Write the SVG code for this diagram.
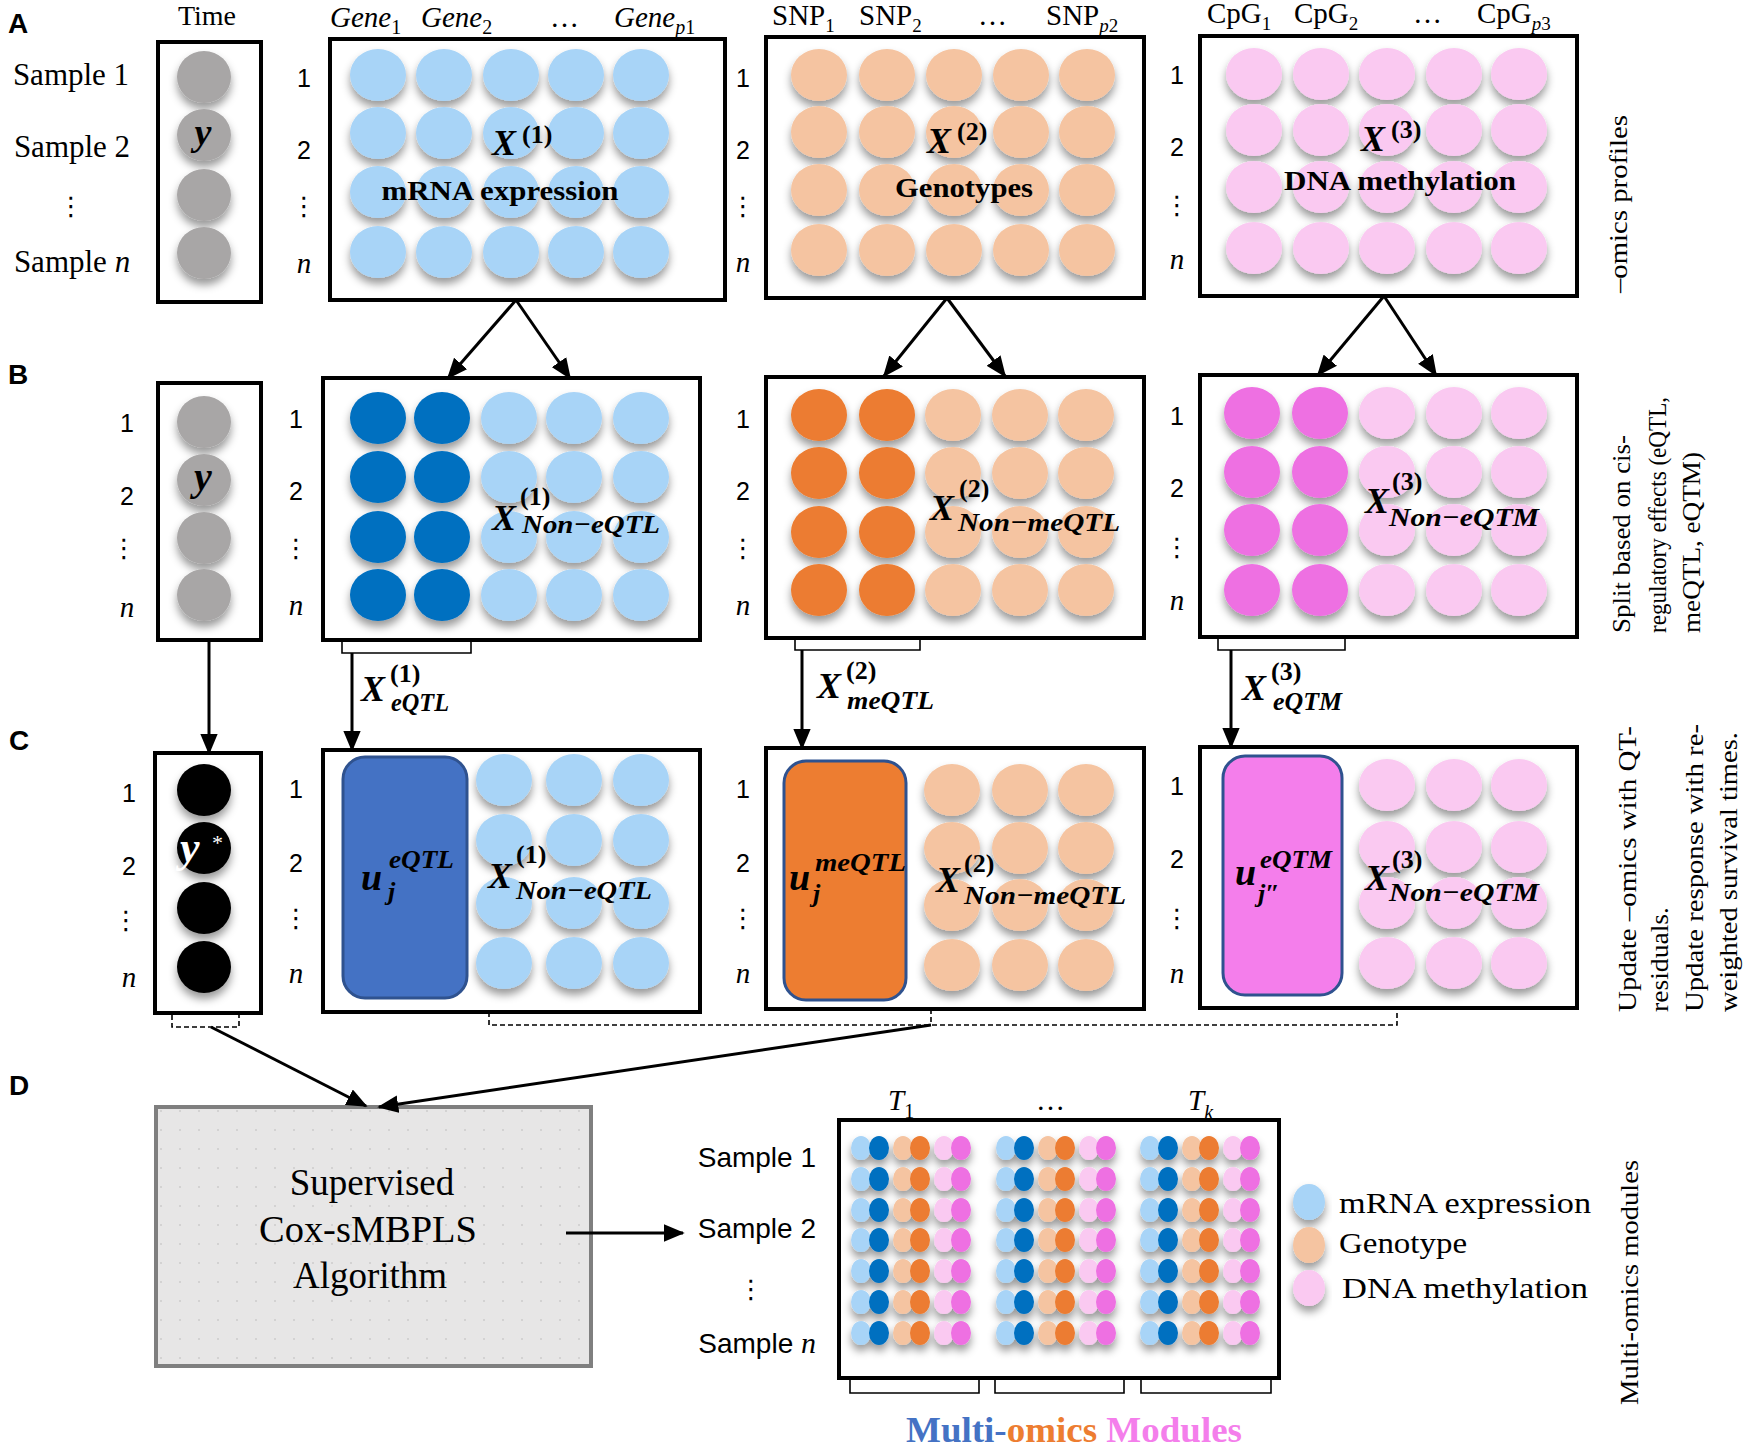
<svg xmlns="http://www.w3.org/2000/svg" width="1750" height="1452" viewBox="0 0 1750 1452">
<defs>
<style>
.box{fill:#fff;stroke:#000;stroke-width:4}
.lb{fill:#A8D4F7}.db{fill:#0070C0}.lo{fill:#F5C4A1}.do{fill:#EC7C30}.lp{fill:#FAC9F1}.dp{fill:#EE70E2}.gr{fill:#A8A6A6}.bk{fill:#000}
.t{font-family:"Liberation Serif","Times New Roman",serif}
.num{font-family:"Liberation Sans",Arial,sans-serif;font-size:25px;text-anchor:middle}
.ni{font-family:"Liberation Serif",serif;font-style:italic;font-size:29px;text-anchor:middle}
.vd{font-family:"DejaVu Sans",sans-serif;font-size:26px;text-anchor:middle}
.bi{font-family:"Liberation Serif",serif;font-weight:bold;font-style:italic}
.bsup{font-family:"Liberation Serif",serif;font-weight:bold;font-style:normal;font-size:26px}
.sub{font-size:26px}
.sec{font-family:"Liberation Sans",Arial,sans-serif;font-weight:bold;font-size:28px}
.hdr{font-family:"Liberation Serif",serif;font-size:29px}
.lbl{font-family:"Liberation Serif",serif;font-weight:bold;font-size:28px;text-anchor:middle}
.conn{stroke:#000;stroke-width:3;fill:none}
.arr{marker-end:url(#ah)}
.brk{stroke:#000;stroke-width:1.6;fill:none}
.dash{stroke:#000;stroke-width:1.6;fill:none;stroke-dasharray:5 3}
.vt{font-family:"Liberation Serif",serif;font-size:25px}
.urect{stroke:#2F528F;stroke-width:3}
.ds{font-family:"Liberation Sans",Arial,sans-serif;font-size:28px;text-anchor:end}
</style>
<filter id="sh" x="-20%" y="-20%" width="140%" height="150%"><feDropShadow dx="0" dy="6" stdDeviation="4" flood-color="#000" flood-opacity="0.4"/></filter>
<marker id="ah" viewBox="0 0 12 10" refX="11" refY="5" markerWidth="7" markerHeight="6" orient="auto" markerUnits="strokeWidth"><path d="M0,0 L12,5 L0,10 z" fill="#000"/></marker>
<pattern id="dotpat" width="19" height="19" patternUnits="userSpaceOnUse"><rect width="19" height="19" fill="#E7E6E6"/><circle cx="9" cy="9" r="1" fill="#CDCCCC"/></pattern>
<g id="m6">
<ellipse cx="0" cy="0" rx="10" ry="12" class="lb"/><ellipse cx="18" cy="0" rx="10" ry="12" class="db"/>
<ellipse cx="42" cy="0" rx="10" ry="12" class="lo"/><ellipse cx="59" cy="0" rx="10" ry="12" class="do"/>
<ellipse cx="83" cy="0" rx="10" ry="12" class="lp"/><ellipse cx="100" cy="0" rx="10" ry="12" class="dp"/>
</g>
</defs>
<rect width="1750" height="1452" fill="#fff"/>

<g id="section-labels">
<text class="sec" x="8" y="33">A</text>
<text class="sec" x="8" y="384">B</text>
<text class="sec" x="9" y="750">C</text>
<text class="sec" x="9" y="1095">D</text>
</g>

<!-- ===== Row A ===== -->
<g id="a-samples">
<text class="t" x="71" y="85" font-size="31" text-anchor="middle">Sample 1</text>
<text class="t" x="72" y="157" font-size="31" text-anchor="middle">Sample 2</text>
<text class="vd" x="71" y="215">⋮</text>
<text class="t" x="72" y="272" font-size="31" text-anchor="middle">Sample <tspan font-style="italic">n</tspan></text>
</g>
<g id="a-time">
<text class="t" x="207" y="25" font-size="28" text-anchor="middle">Time</text>
<rect class="box" x="158" y="42" width="103" height="260"/>
<g filter="url(#sh)">
<ellipse class="gr" cx="204" cy="77" rx="27" ry="26"/><ellipse class="gr" cx="204" cy="135" rx="27" ry="26"/>
<ellipse class="gr" cx="204" cy="195" rx="27" ry="26"/><ellipse class="gr" cx="204" cy="253" rx="27" ry="26"/>
</g>
<text class="bi" x="203" y="145" font-size="38" text-anchor="middle">y</text>
</g>

<g id="a-gene">
<text class="hdr" x="330" y="27" font-size="31" font-style="italic">Gene<tspan font-size="20" dy="7" font-style="normal">1</tspan></text>
<text class="hdr" x="421" y="27" font-size="31" font-style="italic">Gene<tspan font-size="20" dy="7" font-style="normal">2</tspan></text>
<text class="hdr" x="550" y="27">…</text>
<text class="hdr" x="614" y="27" font-size="31" font-style="italic">Gene<tspan font-size="20" dy="7">p</tspan><tspan font-size="20" font-style="normal">1</tspan></text>
<text class="num" x="304" y="87">1</text><text class="num" x="304" y="159">2</text><text class="vd" x="304" y="215">⋮</text><text class="ni" x="304" y="273">n</text>
<rect class="box" x="330" y="39" width="395" height="261"/>
<g filter="url(#sh)" class="lb">
<ellipse cx="378" cy="75" rx="28" ry="26"/><ellipse cx="444" cy="75" rx="28" ry="26"/><ellipse cx="511" cy="75" rx="28" ry="26"/><ellipse cx="576" cy="75" rx="28" ry="26"/><ellipse cx="641" cy="75" rx="28" ry="26"/>
<ellipse cx="378" cy="133" rx="28" ry="26"/><ellipse cx="444" cy="133" rx="28" ry="26"/><ellipse cx="511" cy="133" rx="28" ry="26"/><ellipse cx="576" cy="133" rx="28" ry="26"/><ellipse cx="641" cy="133" rx="28" ry="26"/>
<ellipse cx="378" cy="192" rx="28" ry="26"/><ellipse cx="444" cy="192" rx="28" ry="26"/><ellipse cx="511" cy="192" rx="28" ry="26"/><ellipse cx="576" cy="192" rx="28" ry="26"/><ellipse cx="641" cy="192" rx="28" ry="26"/>
<ellipse cx="378" cy="252" rx="28" ry="26"/><ellipse cx="444" cy="252" rx="28" ry="26"/><ellipse cx="511" cy="252" rx="28" ry="26"/><ellipse cx="576" cy="252" rx="28" ry="26"/><ellipse cx="641" cy="252" rx="28" ry="26"/>
</g>
<text class="bi" font-size="36"><tspan x="492" y="155">X</tspan><tspan class="bsup" x="522" y="143">(1)</tspan></text>
<text class="lbl" x="500" y="200" textLength="237" lengthAdjust="spacingAndGlyphs">mRNA expression</text>
</g>

<g id="a-snp">
<text class="hdr" x="772" y="25" font-size="28">SNP<tspan font-size="19" dy="7">1</tspan></text>
<text class="hdr" x="859" y="25" font-size="28">SNP<tspan font-size="19" dy="7">2</tspan></text>
<text class="hdr" x="978" y="25">…</text>
<text class="hdr" x="1046" y="25" font-size="28">SNP<tspan font-size="19" dy="7" font-style="italic">p</tspan><tspan font-size="19">2</tspan></text>
<text class="num" x="743" y="87">1</text><text class="num" x="743" y="159">2</text><text class="vd" x="743" y="215">⋮</text><text class="ni" x="743" y="272">n</text>
<rect class="box" x="766" y="37" width="378" height="261"/>
<g filter="url(#sh)" class="lo">
<ellipse cx="819" cy="75" rx="28" ry="26"/><ellipse cx="887" cy="75" rx="28" ry="26"/><ellipse cx="954" cy="75" rx="28" ry="26"/><ellipse cx="1021" cy="75" rx="28" ry="26"/><ellipse cx="1087" cy="75" rx="28" ry="26"/>
<ellipse cx="819" cy="132" rx="28" ry="26"/><ellipse cx="887" cy="132" rx="28" ry="26"/><ellipse cx="954" cy="132" rx="28" ry="26"/><ellipse cx="1021" cy="132" rx="28" ry="26"/><ellipse cx="1087" cy="132" rx="28" ry="26"/>
<ellipse cx="819" cy="190" rx="28" ry="26"/><ellipse cx="887" cy="190" rx="28" ry="26"/><ellipse cx="954" cy="190" rx="28" ry="26"/><ellipse cx="1021" cy="190" rx="28" ry="26"/><ellipse cx="1087" cy="190" rx="28" ry="26"/>
<ellipse cx="819" cy="250" rx="28" ry="26"/><ellipse cx="887" cy="250" rx="28" ry="26"/><ellipse cx="954" cy="250" rx="28" ry="26"/><ellipse cx="1021" cy="250" rx="28" ry="26"/><ellipse cx="1087" cy="250" rx="28" ry="26"/>
</g>
<text class="bi" font-size="36"><tspan x="927" y="153">X</tspan><tspan class="bsup" x="957" y="140">(2)</tspan></text>
<text class="lbl" x="964" y="197" textLength="138" lengthAdjust="spacingAndGlyphs">Genotypes</text>
</g>

<g id="a-cpg">
<text class="hdr" x="1207" y="23" font-size="28">CpG<tspan font-size="19" dy="7">1</tspan></text>
<text class="hdr" x="1294" y="23" font-size="28">CpG<tspan font-size="19" dy="7">2</tspan></text>
<text class="hdr" x="1413" y="23">…</text>
<text class="hdr" x="1477" y="23" font-size="28">CpG<tspan font-size="19" dy="7" font-style="italic">p</tspan><tspan font-size="19">3</tspan></text>
<text class="num" x="1177" y="84">1</text><text class="num" x="1177" y="156">2</text><text class="vd" x="1177" y="214">⋮</text><text class="ni" x="1177" y="269">n</text>
<rect class="box" x="1200" y="36" width="377" height="260"/>
<g filter="url(#sh)" class="lp">
<ellipse cx="1254" cy="74" rx="28" ry="26"/><ellipse cx="1321" cy="74" rx="28" ry="26"/><ellipse cx="1387" cy="74" rx="28" ry="26"/><ellipse cx="1454" cy="74" rx="28" ry="26"/><ellipse cx="1519" cy="74" rx="28" ry="26"/>
<ellipse cx="1254" cy="130" rx="28" ry="26"/><ellipse cx="1321" cy="130" rx="28" ry="26"/><ellipse cx="1387" cy="130" rx="28" ry="26"/><ellipse cx="1454" cy="130" rx="28" ry="26"/><ellipse cx="1519" cy="130" rx="28" ry="26"/>
<ellipse cx="1254" cy="187" rx="28" ry="26"/><ellipse cx="1321" cy="187" rx="28" ry="26"/><ellipse cx="1387" cy="187" rx="28" ry="26"/><ellipse cx="1454" cy="187" rx="28" ry="26"/><ellipse cx="1519" cy="187" rx="28" ry="26"/>
<ellipse cx="1254" cy="248" rx="28" ry="26"/><ellipse cx="1321" cy="248" rx="28" ry="26"/><ellipse cx="1387" cy="248" rx="28" ry="26"/><ellipse cx="1454" cy="248" rx="28" ry="26"/><ellipse cx="1519" cy="248" rx="28" ry="26"/>
</g>
<text class="bi" font-size="36"><tspan x="1361" y="151">X</tspan><tspan class="bsup" x="1391" y="138">(3)</tspan></text>
<text class="lbl" x="1400" y="190" textLength="232" lengthAdjust="spacingAndGlyphs">DNA methylation</text>
</g>

<text id="a-side" class="vt" transform="translate(1627,293) rotate(-90)" textLength="178" lengthAdjust="spacingAndGlyphs">–omics profiles</text>

<!-- ===== Row B ===== -->
<g id="b-time">
<text class="num" x="127" y="432">1</text><text class="num" x="127" y="505">2</text><text class="vd" x="124" y="557">⋮</text><text class="ni" x="127" y="617">n</text>
<rect class="box" x="158" y="383" width="103" height="257"/>
<g filter="url(#sh)" class="gr">
<ellipse cx="204" cy="422" rx="27" ry="26"/><ellipse cx="204" cy="480" rx="27" ry="26"/><ellipse cx="204" cy="538" rx="27" ry="26"/><ellipse cx="204" cy="595" rx="27" ry="26"/>
</g>
<text class="bi" x="203" y="490" font-size="40" text-anchor="middle">y</text>
</g>

<g id="b-gene">
<text class="num" x="296" y="428">1</text><text class="num" x="296" y="500">2</text><text class="vd" x="296" y="557">⋮</text><text class="ni" x="296" y="615">n</text>
<rect class="box" x="323" y="378" width="377" height="262"/>
<g filter="url(#sh)">
<g class="db">
<ellipse cx="378" cy="418" rx="28" ry="26"/><ellipse cx="442" cy="418" rx="28" ry="26"/>
<ellipse cx="378" cy="477" rx="28" ry="26"/><ellipse cx="442" cy="477" rx="28" ry="26"/>
<ellipse cx="378" cy="537" rx="28" ry="26"/><ellipse cx="442" cy="537" rx="28" ry="26"/>
<ellipse cx="378" cy="595" rx="28" ry="26"/><ellipse cx="442" cy="595" rx="28" ry="26"/>
</g>
<g class="lb">
<ellipse cx="509" cy="418" rx="28" ry="26"/><ellipse cx="574" cy="418" rx="28" ry="26"/><ellipse cx="641" cy="418" rx="28" ry="26"/>
<ellipse cx="509" cy="477" rx="28" ry="26"/><ellipse cx="574" cy="477" rx="28" ry="26"/><ellipse cx="641" cy="477" rx="28" ry="26"/>
<ellipse cx="509" cy="537" rx="28" ry="26"/><ellipse cx="574" cy="537" rx="28" ry="26"/><ellipse cx="641" cy="537" rx="28" ry="26"/>
<ellipse cx="509" cy="595" rx="28" ry="26"/><ellipse cx="574" cy="595" rx="28" ry="26"/><ellipse cx="641" cy="595" rx="28" ry="26"/>
</g>
</g>
<text class="bi" font-size="36"><tspan x="492" y="530">X</tspan><tspan class="bsup" x="520" y="505">(1)</tspan><tspan class="sub" x="522" y="533" textLength="138" lengthAdjust="spacingAndGlyphs">Non−eQTL</tspan></text>
</g>

<g id="b-snp">
<text class="num" x="743" y="428">1</text><text class="num" x="743" y="500">2</text><text class="vd" x="743" y="557">⋮</text><text class="ni" x="743" y="615">n</text>
<rect class="box" x="766" y="377" width="378" height="261"/>
<g filter="url(#sh)">
<g class="do">
<ellipse cx="819" cy="415" rx="28" ry="26"/><ellipse cx="887" cy="415" rx="28" ry="26"/>
<ellipse cx="819" cy="473" rx="28" ry="26"/><ellipse cx="887" cy="473" rx="28" ry="26"/>
<ellipse cx="819" cy="532" rx="28" ry="26"/><ellipse cx="887" cy="532" rx="28" ry="26"/>
<ellipse cx="819" cy="590" rx="28" ry="26"/><ellipse cx="887" cy="590" rx="28" ry="26"/>
</g>
<g class="lo">
<ellipse cx="953" cy="415" rx="28" ry="26"/><ellipse cx="1020" cy="415" rx="28" ry="26"/><ellipse cx="1086" cy="415" rx="28" ry="26"/>
<ellipse cx="953" cy="473" rx="28" ry="26"/><ellipse cx="1020" cy="473" rx="28" ry="26"/><ellipse cx="1086" cy="473" rx="28" ry="26"/>
<ellipse cx="953" cy="532" rx="28" ry="26"/><ellipse cx="1020" cy="532" rx="28" ry="26"/><ellipse cx="1086" cy="532" rx="28" ry="26"/>
<ellipse cx="953" cy="590" rx="28" ry="26"/><ellipse cx="1020" cy="590" rx="28" ry="26"/><ellipse cx="1086" cy="590" rx="28" ry="26"/>
</g>
</g>
<text class="bi" font-size="36"><tspan x="930" y="520">X</tspan><tspan class="bsup" x="959" y="497">(2)</tspan><tspan class="sub" x="958" y="531" textLength="162" lengthAdjust="spacingAndGlyphs">Non−meQTL</tspan></text>
</g>

<g id="b-cpg">
<text class="num" x="1177" y="425">1</text><text class="num" x="1177" y="497">2</text><text class="vd" x="1177" y="556">⋮</text><text class="ni" x="1177" y="610">n</text>
<rect class="box" x="1200" y="375" width="377" height="262"/>
<g filter="url(#sh)">
<g class="dp">
<ellipse cx="1252" cy="413" rx="28" ry="26"/><ellipse cx="1320" cy="413" rx="28" ry="26"/>
<ellipse cx="1252" cy="472" rx="28" ry="26"/><ellipse cx="1320" cy="472" rx="28" ry="26"/>
<ellipse cx="1252" cy="530" rx="28" ry="26"/><ellipse cx="1320" cy="530" rx="28" ry="26"/>
<ellipse cx="1252" cy="590" rx="28" ry="26"/><ellipse cx="1320" cy="590" rx="28" ry="26"/>
</g>
<g class="lp">
<ellipse cx="1387" cy="413" rx="28" ry="26"/><ellipse cx="1454" cy="413" rx="28" ry="26"/><ellipse cx="1519" cy="413" rx="28" ry="26"/>
<ellipse cx="1387" cy="472" rx="28" ry="26"/><ellipse cx="1454" cy="472" rx="28" ry="26"/><ellipse cx="1519" cy="472" rx="28" ry="26"/>
<ellipse cx="1387" cy="530" rx="28" ry="26"/><ellipse cx="1454" cy="530" rx="28" ry="26"/><ellipse cx="1519" cy="530" rx="28" ry="26"/>
<ellipse cx="1387" cy="590" rx="28" ry="26"/><ellipse cx="1454" cy="590" rx="28" ry="26"/><ellipse cx="1519" cy="590" rx="28" ry="26"/>
</g>
</g>
<text class="bi" font-size="36"><tspan x="1365" y="513">X</tspan><tspan class="bsup" x="1392" y="490">(3)</tspan><tspan class="sub" x="1389" y="526" textLength="150" lengthAdjust="spacingAndGlyphs">Non−eQTM</tspan></text>
</g>

<g id="b-side" class="vt">
<text transform="translate(1630,633) rotate(-90)" textLength="198" lengthAdjust="spacingAndGlyphs">Split based on cis-</text>
<text transform="translate(1666,633) rotate(-90)" textLength="236" lengthAdjust="spacingAndGlyphs">regulatory effects (eQTL,</text>
<text transform="translate(1700,633) rotate(-90)" textLength="181" lengthAdjust="spacingAndGlyphs">meQTL, eQTM)</text>
</g>

<g id="b-split-labels">
<text class="bi" font-size="36"><tspan x="361" y="701">X</tspan><tspan class="bsup" x="390" y="682">(1)</tspan><tspan class="sub" x="391" y="711" textLength="58" lengthAdjust="spacingAndGlyphs">eQTL</tspan></text>
<text class="bi" font-size="36"><tspan x="817" y="698">X</tspan><tspan class="bsup" x="846" y="679">(2)</tspan><tspan class="sub" x="847" y="709" textLength="87" lengthAdjust="spacingAndGlyphs">meQTL</tspan></text>
<text class="bi" font-size="36"><tspan x="1242" y="700">X</tspan><tspan class="bsup" x="1271" y="680">(3)</tspan><tspan class="sub" x="1273" y="710" textLength="69" lengthAdjust="spacingAndGlyphs">eQTM</tspan></text>
</g>

<!-- ===== Row C ===== -->
<g id="c-time">
<text class="num" x="129" y="802">1</text><text class="num" x="129" y="875">2</text><text class="vd" x="126" y="929">⋮</text><text class="ni" x="129" y="987">n</text>
<rect class="box" x="155" y="753" width="106" height="260"/>
<g filter="url(#sh)" class="bk">
<ellipse cx="204" cy="790" rx="27" ry="26"/><ellipse cx="204" cy="848" rx="27" ry="26"/><ellipse cx="204" cy="908" rx="27" ry="26"/><ellipse cx="204" cy="967" rx="27" ry="26"/>
</g>
<text class="bi" font-size="44" fill="#fff"><tspan x="180" y="862">y</tspan><tspan class="t" font-weight="normal" font-style="normal" font-size="22" x="212" y="850">*</tspan></text>
</g>

<g id="c-gene">
<text class="num" x="296" y="798">1</text><text class="num" x="296" y="872">2</text><text class="vd" x="296" y="927">⋮</text><text class="ni" x="296" y="983">n</text>
<rect class="box" x="323" y="750" width="377" height="262"/>
<rect class="urect" x="343" y="757" width="124" height="241" rx="22" fill="#4472C4"/>
<g filter="url(#sh)" class="lb">
<ellipse cx="504" cy="780" rx="28" ry="26"/><ellipse cx="574" cy="780" rx="28" ry="26"/><ellipse cx="641" cy="780" rx="28" ry="26"/>
<ellipse cx="504" cy="840" rx="28" ry="26"/><ellipse cx="574" cy="840" rx="28" ry="26"/><ellipse cx="641" cy="840" rx="28" ry="26"/>
<ellipse cx="504" cy="903" rx="28" ry="26"/><ellipse cx="574" cy="903" rx="28" ry="26"/><ellipse cx="641" cy="903" rx="28" ry="26"/>
<ellipse cx="504" cy="963" rx="28" ry="26"/><ellipse cx="574" cy="963" rx="28" ry="26"/><ellipse cx="641" cy="963" rx="28" ry="26"/>
</g>
<text class="bi" font-size="38"><tspan x="361" y="890">u</tspan><tspan class="sub" x="389" y="868" textLength="65" lengthAdjust="spacingAndGlyphs">eQTL</tspan><tspan class="sub" x="388" y="900">j</tspan></text>
<text class="bi" font-size="36"><tspan x="488" y="888">X</tspan><tspan class="bsup" x="516" y="863">(1)</tspan><tspan class="sub" x="516" y="899" textLength="136" lengthAdjust="spacingAndGlyphs">Non−eQTL</tspan></text>
</g>

<g id="c-snp">
<text class="num" x="743" y="798">1</text><text class="num" x="743" y="872">2</text><text class="vd" x="743" y="927">⋮</text><text class="ni" x="743" y="983">n</text>
<rect class="box" x="766" y="748" width="378" height="261"/>
<rect class="urect" x="784" y="761" width="122" height="239" rx="22" fill="#ED7D31"/>
<g filter="url(#sh)" class="lo">
<ellipse cx="952" cy="790" rx="28" ry="26"/><ellipse cx="1020" cy="790" rx="28" ry="26"/><ellipse cx="1086" cy="790" rx="28" ry="26"/>
<ellipse cx="952" cy="848" rx="28" ry="26"/><ellipse cx="1020" cy="848" rx="28" ry="26"/><ellipse cx="1086" cy="848" rx="28" ry="26"/>
<ellipse cx="952" cy="905" rx="28" ry="26"/><ellipse cx="1020" cy="905" rx="28" ry="26"/><ellipse cx="1086" cy="905" rx="28" ry="26"/>
<ellipse cx="952" cy="965" rx="28" ry="26"/><ellipse cx="1020" cy="965" rx="28" ry="26"/><ellipse cx="1086" cy="965" rx="28" ry="26"/>
</g>
<text class="bi" font-size="38"><tspan x="789" y="890">u</tspan><tspan class="sub" x="815" y="871" textLength="91" lengthAdjust="spacingAndGlyphs">meQTL</tspan><tspan class="sub" x="813" y="902">j</tspan></text>
<text class="bi" font-size="36"><tspan x="936" y="892">X</tspan><tspan class="bsup" x="964" y="872">(2)</tspan><tspan class="sub" x="964" y="904" textLength="162" lengthAdjust="spacingAndGlyphs">Non−meQTL</tspan></text>
</g>

<g id="c-cpg">
<text class="num" x="1177" y="795">1</text><text class="num" x="1177" y="868">2</text><text class="vd" x="1177" y="927">⋮</text><text class="ni" x="1177" y="983">n</text>
<rect class="box" x="1200" y="747" width="377" height="261"/>
<rect class="urect" x="1223" y="756" width="119" height="239" rx="22" fill="#F47EEB"/>
<g filter="url(#sh)" class="lp">
<ellipse cx="1387" cy="785" rx="28" ry="26"/><ellipse cx="1454" cy="785" rx="28" ry="26"/><ellipse cx="1519" cy="785" rx="28" ry="26"/>
<ellipse cx="1387" cy="847" rx="28" ry="26"/><ellipse cx="1454" cy="847" rx="28" ry="26"/><ellipse cx="1519" cy="847" rx="28" ry="26"/>
<ellipse cx="1387" cy="903" rx="28" ry="26"/><ellipse cx="1454" cy="903" rx="28" ry="26"/><ellipse cx="1519" cy="903" rx="28" ry="26"/>
<ellipse cx="1387" cy="963" rx="28" ry="26"/><ellipse cx="1454" cy="963" rx="28" ry="26"/><ellipse cx="1519" cy="963" rx="28" ry="26"/>
</g>
<text class="bi" font-size="38"><tspan x="1235" y="885">u</tspan><tspan class="sub" x="1260" y="868" textLength="72" lengthAdjust="spacingAndGlyphs">eQTM</tspan><tspan class="sub" x="1258" y="902">j″</tspan></text>
<text class="bi" font-size="36"><tspan x="1365" y="890">X</tspan><tspan class="bsup" x="1392" y="868">(3)</tspan><tspan class="sub" x="1389" y="901" textLength="150" lengthAdjust="spacingAndGlyphs">Non−eQTM</tspan></text>
</g>

<g id="c-side" class="vt">
<text transform="translate(1636,1012) rotate(-90)" textLength="286" lengthAdjust="spacingAndGlyphs">Update –omics with QT-</text>
<text transform="translate(1668,1012) rotate(-90)" textLength="105" lengthAdjust="spacingAndGlyphs">residuals.</text>
<text transform="translate(1703,1012) rotate(-90)" textLength="288" lengthAdjust="spacingAndGlyphs">Update response with re-</text>
<text transform="translate(1737,1012) rotate(-90)" textLength="280" lengthAdjust="spacingAndGlyphs">weighted survival times.</text>
</g>

<!-- ===== Row D ===== -->
<g id="d-algorithm">
<rect x="156" y="1107" width="435" height="259" fill="url(#dotpat)" stroke="#7F7F7F" stroke-width="4"/>
<text class="t" x="372" y="1195" font-size="37" text-anchor="middle">Supervised</text>
<text class="t" x="368" y="1242" font-size="37" text-anchor="middle" textLength="218" lengthAdjust="spacingAndGlyphs">Cox-sMBPLS</text>
<text class="t" x="370" y="1288" font-size="37" text-anchor="middle">Algorithm</text>
</g>

<g id="d-samples">
<text class="ds" x="816" y="1167">Sample 1</text>
<text class="ds" x="816" y="1238">Sample 2</text>
<text class="vd" x="751" y="1298">⋮</text>
<text class="ds" x="816" y="1353">Sample <tspan font-family="Liberation Serif, serif" font-style="italic" font-size="30">n</tspan></text>
</g>

<g id="d-modules">
<text class="hdr" x="888" y="1110" font-style="italic" font-size="30">T<tspan font-size="20" dy="8" font-style="normal">1</tspan></text>
<text class="hdr" x="1036" y="1110">…</text>
<text class="hdr" x="1188" y="1110" font-style="italic" font-size="30">T<tspan font-size="20" dy="9">k</tspan></text>
<rect class="box" x="839" y="1120" width="440" height="258"/>
<g filter="url(#sh)">
<use href="#m6" x="861" y="1148"/><use href="#m6" x="1006" y="1148"/><use href="#m6" x="1150" y="1148"/>
<use href="#m6" x="861" y="1179"/><use href="#m6" x="1006" y="1179"/><use href="#m6" x="1150" y="1179"/>
<use href="#m6" x="861" y="1210"/><use href="#m6" x="1006" y="1210"/><use href="#m6" x="1150" y="1210"/>
<use href="#m6" x="861" y="1240"/><use href="#m6" x="1006" y="1240"/><use href="#m6" x="1150" y="1240"/>
<use href="#m6" x="861" y="1271"/><use href="#m6" x="1006" y="1271"/><use href="#m6" x="1150" y="1271"/>
<use href="#m6" x="861" y="1302"/><use href="#m6" x="1006" y="1302"/><use href="#m6" x="1150" y="1302"/>
<use href="#m6" x="861" y="1333"/><use href="#m6" x="1006" y="1333"/><use href="#m6" x="1150" y="1333"/>
</g>
<path class="brk" d="M850,1378 V1393 H979 V1378 M995,1378 V1393 H1124 V1378 M1141,1378 V1393 H1271 V1378"/>
<text x="1074" y="1442" font-family="Liberation Serif, serif" font-weight="bold" font-size="36" text-anchor="middle" textLength="336" lengthAdjust="spacingAndGlyphs"><tspan fill="#4472C4">Multi-</tspan><tspan fill="#ED7D31">omics</tspan><tspan fill="#F47EEB"> Modules</tspan></text>
</g>

<g id="d-legend">
<g filter="url(#sh)">
<ellipse class="lb" cx="1309" cy="1202" rx="16" ry="18"/>
<ellipse class="lo" cx="1309" cy="1245" rx="16" ry="18"/>
<ellipse class="lp" cx="1309" cy="1288" rx="16" ry="18"/>
</g>
<text class="t" x="1339" y="1213" font-size="30" textLength="252" lengthAdjust="spacingAndGlyphs">mRNA expression</text>
<text class="t" x="1339" y="1253" font-size="30" textLength="128" lengthAdjust="spacingAndGlyphs">Genotype</text>
<text class="t" x="1342" y="1298" font-size="30" textLength="246" lengthAdjust="spacingAndGlyphs">DNA methylation</text>
</g>

<text id="d-side" class="vt" transform="translate(1638,1405) rotate(-90)" textLength="245" lengthAdjust="spacingAndGlyphs">Multi-omics modules</text>

<!-- ===== Connectors ===== -->
<g id="connectors">
<line class="conn arr" x1="516" y1="300" x2="448" y2="378"/>
<line class="conn arr" x1="516" y1="300" x2="570" y2="378"/>
<line class="conn arr" x1="947" y1="298" x2="884" y2="376"/>
<line class="conn arr" x1="947" y1="298" x2="1005" y2="376"/>
<line class="conn arr" x1="1384" y1="296" x2="1318" y2="375"/>
<line class="conn arr" x1="1384" y1="296" x2="1436" y2="375"/>
<path class="brk" d="M342,640 V653 H471 V640"/>
<path class="brk" d="M795,638 V650 H920 V638"/>
<path class="brk" d="M1218,637 V650 H1345 V637"/>
<line class="conn arr" x1="209" y1="640" x2="209" y2="753"/>
<line class="conn arr" x1="352" y1="653" x2="352" y2="750"/>
<line class="conn arr" x1="802" y1="650" x2="802" y2="748"/>
<line class="conn arr" x1="1231" y1="650" x2="1231" y2="747"/>
<path class="dash" d="M172,1015 V1027 H239 V1015"/>
<path class="dash" d="M489,1012 V1025 H1397 V1008 M931,1009 V1025"/>
<line class="conn arr" x1="211" y1="1027" x2="366" y2="1106"/>
<line class="conn arr" x1="931" y1="1025" x2="379" y2="1107"/>
<line class="conn arr" x1="566" y1="1233" x2="683" y2="1233"/>
</g>
</svg>
